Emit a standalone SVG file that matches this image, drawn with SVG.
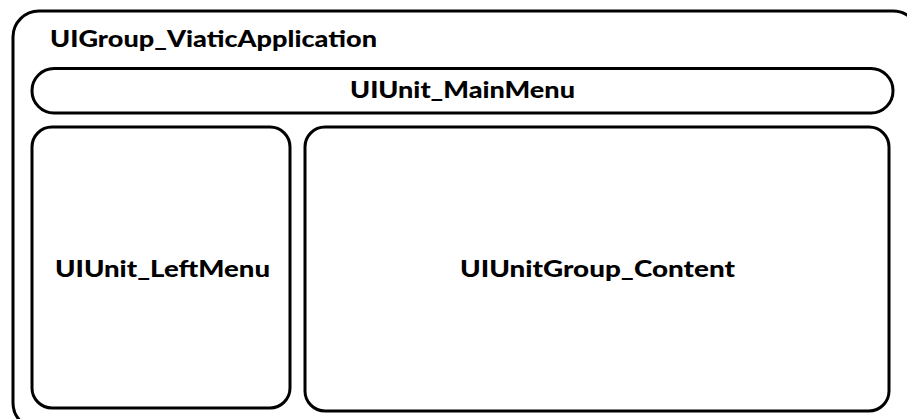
<svg xmlns="http://www.w3.org/2000/svg" width="907" height="419" viewBox="0 0 907 419">
<style>
.box{fill:#fff;stroke:#000;stroke-width:3}
.lbl{font-family:Lato,"Liberation Sans",sans-serif;font-weight:900;font-size:22px;fill:#000}
</style>
<rect width="907" height="419" fill="#fff"/>
<g id="UIGroup_ViaticApplication">
<rect class="box" x="13" y="11" width="906" height="418" rx="26"/>
<text class="lbl" x="50" y="47" textLength="327" lengthAdjust="spacingAndGlyphs">UIGroup_ViaticApplication</text>
</g>
<g id="UIUnit_MainMenu">
<rect class="box" x="32" y="68.5" width="861" height="44.5" rx="22"/>
<text class="lbl" x="350" y="98" textLength="225" lengthAdjust="spacingAndGlyphs">UIUnit_MainMenu</text>
</g>
<g id="UIUnit_LeftMenu">
<rect class="box" x="32" y="127" width="258" height="281" rx="20"/>
<text class="lbl" x="55" y="277" textLength="215" lengthAdjust="spacingAndGlyphs">UIUnit_LeftMenu</text>
</g>
<g id="UIUnitGroup_Content">
<rect class="box" x="305" y="127" width="584" height="284" rx="20"/>
<text class="lbl" x="460" y="277" textLength="275" lengthAdjust="spacingAndGlyphs">UIUnitGroup_Content</text>
</g>
<g id="connectors"/>
</svg>
